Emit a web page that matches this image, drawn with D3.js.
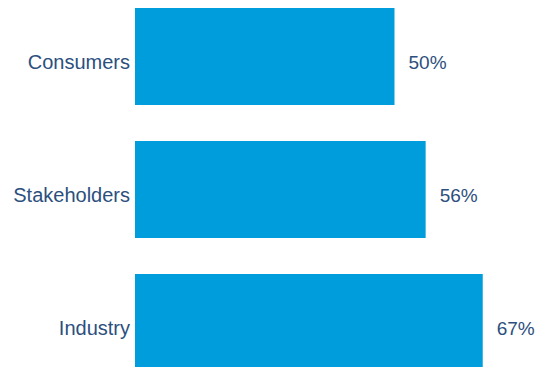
<!DOCTYPE html>
<html>
<head>
<meta charset="utf-8">
<script src="https://cdn.jsdelivr.net/npm/d3@7"></script>
<style>
  html, body { margin: 0; padding: 0; background: #ffffff; }
  svg { display: block; }
  text { font-family: "Liberation Sans", Arial, Helvetica, sans-serif; }
</style>
</head>
<body>
<div id="chart"></div>
<script>
// Share of respondents per group
const categories = ["Consumers", "Stakeholders", "Industry"];
const values = [50, 56, 67];
const valueLabels = ["50%", "56%", "67%"];

const width = 539, height = 367;
const barColor = "#009ddc";
const textColor = "#2c4f7e";

const svg = d3.select("#chart").append("svg")
  .attr("width", width)
  .attr("height", height);

const x = d3.scaleLinear().domain([0, 100]).range([135, 135 + 519]);
const y = d3.scaleBand()
  .domain(categories)
  .range([8, 371])
  .paddingInner(36 / 133)
  .paddingOuter(0);

const rows = svg.selectAll("g.row")
  .data(categories.map((c, i) => ({ cat: c, value: values[i], label: valueLabels[i] })))
  .join("g")
  .attr("class", "row");

rows.append("rect")
  .attr("x", x(0))
  .attr("y", d => y(d.cat))
  .attr("width", d => x(d.value) - x(0))
  .attr("height", y.bandwidth())
  .attr("fill", barColor);

// category names to the left of each bar
rows.append("text")
  .attr("x", x(0) - 5)
  .attr("y", d => y(d.cat) + y.bandwidth() / 2 + 12.5)
  .attr("text-anchor", "end")
  .attr("font-size", 20)
  .attr("fill", textColor)
  .text(d => d.cat);

// value labels just past the bar end
rows.append("text")
  .attr("x", d => x(d.value) + 14)
  .attr("y", d => y(d.cat) + y.bandwidth() / 2 + 12.5)
  .attr("text-anchor", "start")
  .attr("font-size", 19)
  .attr("fill", textColor)
  .text(d => d.label);
</script>
</body>
</html>
